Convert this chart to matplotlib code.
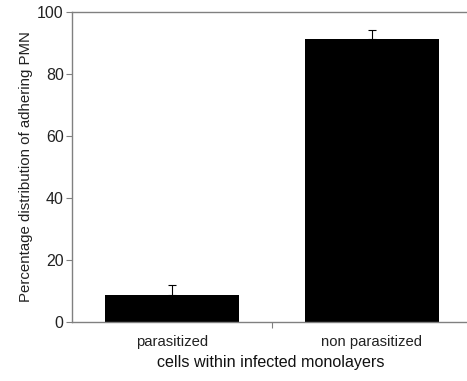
import matplotlib.pyplot as plt

categories = ["parasitized", "non parasitized"]
values = [8.8, 91.3]
errors = [3.0, 2.8]

plt.rcParams['font.family'] = ['Liberation Sans', 'DejaVu Sans']

fig = plt.figure(figsize=(4.67, 3.81), dpi=100)
ax = fig.add_axes([72 / 467, 1 - 322 / 381, (467 - 72) / 467, 310 / 381])

pos = [0.5, 1.5]
ax.bar(pos, values, width=0.67, color='black', zorder=2)
ax.errorbar(pos, values, yerr=[[0, 0], errors], fmt='none', ecolor='black',
            elinewidth=0.8, capsize=3, capthick=0.8, zorder=3)

ax.set_xlim(0, (467 - 72) / 200)
ax.set_ylim(0, 100)
ax.set_yticks(range(0, 101, 20))

grey = '#808080'
for side in ['left', 'top', 'bottom']:
    ax.spines[side].set_color(grey)
    ax.spines[side].set_linewidth(1)
ax.spines['right'].set_visible(False)

ax.set_xticks([1.0])
ax.set_xticklabels([''])
ax.tick_params(axis='x', direction='out', length=4, color=grey)
ax.tick_params(axis='y', direction='out', length=4, color=grey, labelsize=11.5,
               labelcolor='#222222', pad=2)
for p, c in zip(pos, categories):
    ax.text(p, -6.3, c, ha='center', va='center', fontsize=10.7, color='#222222',
            transform=ax.transData, clip_on=False)

ax.set_ylabel("Percentage distribution of adhering PMN", fontsize=10.8,
              color='#222222', labelpad=3)
fig.text(271 / 467, 1 - 362 / 381, "cells within infected monolayers",
         ha='center', va='center', fontsize=11.6, color='#111111')

fig.savefig('out.png', dpi=100)
